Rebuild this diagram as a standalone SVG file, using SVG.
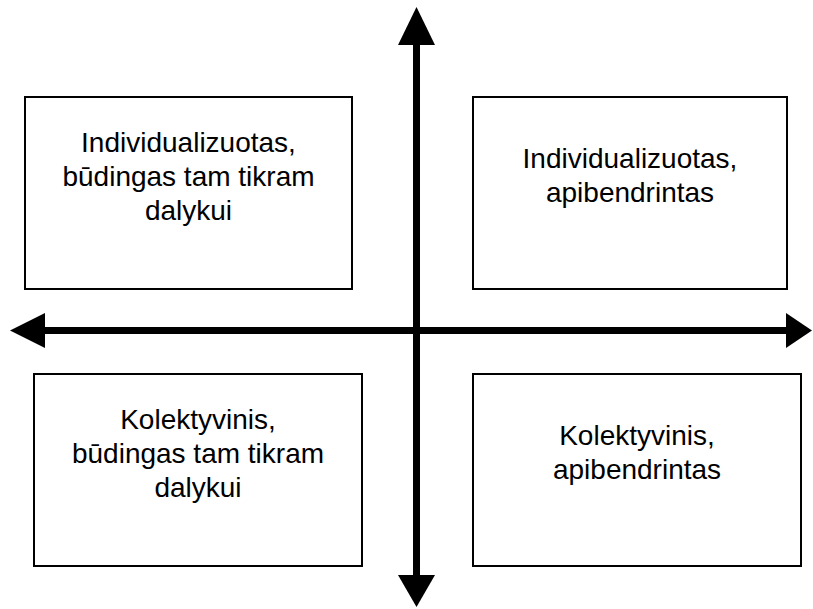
<svg xmlns="http://www.w3.org/2000/svg" width="813" height="609" viewBox="0 0 813 609">
<style>
.box{fill:#fff;stroke:#000;stroke-width:2}
.t{font-family:"Liberation Sans",Arial,sans-serif;font-size:28px;fill:#000;text-anchor:middle}
.axis{stroke:#000;stroke-width:7;fill:none}
.head{fill:#000}
</style>
<rect width="813" height="609" fill="#fff"/>
<g id="connectors">
<line class="axis" x1="416.5" y1="40" x2="416.5" y2="580"/>
<line class="axis" x1="40" y1="330.5" x2="790" y2="330.5"/>
<polygon class="head" points="416.5,7 435,45 398,45"/>
<polygon class="head" points="416.5,607 435,575 398,575"/>
<polygon class="head" points="10,330.5 45,313 45,348"/>
<polygon class="head" points="812,330.5 786,313 786,348"/>
</g>
<g id="node-tl">
<rect class="box" x="25" y="97" width="327" height="192"/>
<text class="t" x="188.5" y="152">Individualizuotas,</text>
<text class="t" x="188.5" y="186">būdingas tam tikram</text>
<text class="t" x="188.5" y="220">dalykui</text>
</g>
<g id="node-tr">
<rect class="box" x="473" y="97" width="314" height="192"/>
<text class="t" x="630" y="168">Individualizuotas,</text>
<text class="t" x="630" y="202">apibendrintas</text>
</g>
<g id="node-bl">
<rect class="box" x="34" y="374" width="328" height="192"/>
<text class="t" x="198" y="429">Kolektyvinis,</text>
<text class="t" x="198" y="463">būdingas tam tikram</text>
<text class="t" x="198" y="497">dalykui</text>
</g>
<g id="node-br">
<rect class="box" x="473" y="374" width="328" height="192"/>
<text class="t" x="637" y="445">Kolektyvinis,</text>
<text class="t" x="637" y="479">apibendrintas</text>
</g>
</svg>
